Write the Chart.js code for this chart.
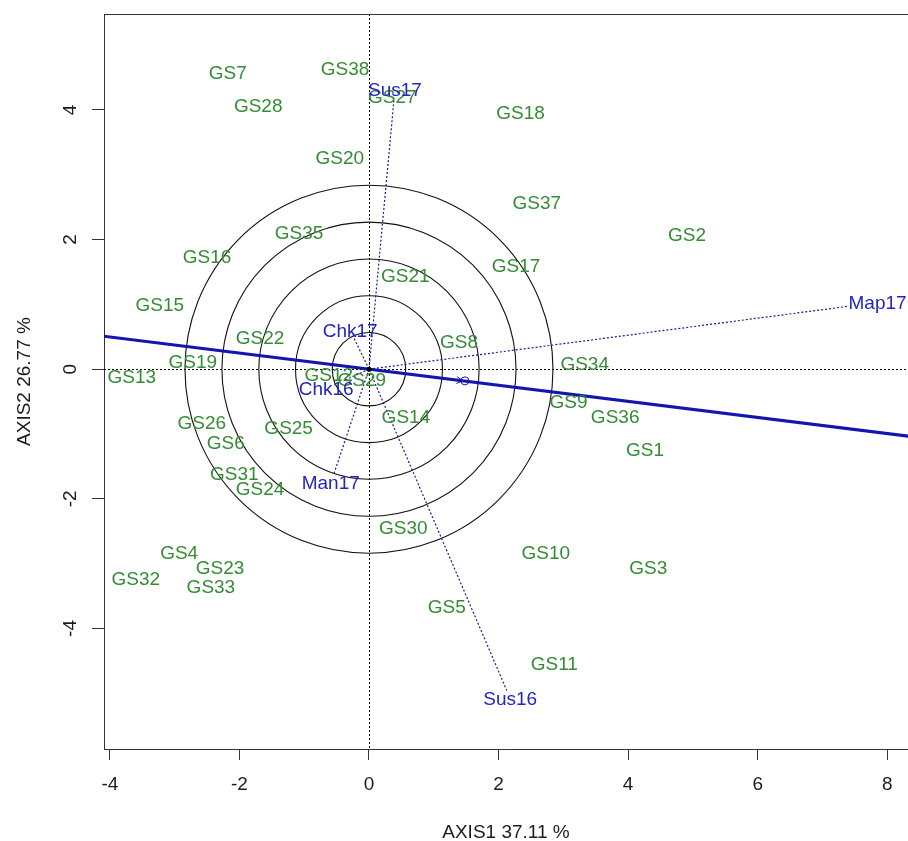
<!DOCTYPE html>
<html>
<head>
<meta charset="utf-8">
<script src="https://cdn.jsdelivr.net/npm/chart.js@4.4.1/dist/chart.umd.min.js"></script>
<style>
  html, body { margin: 0; padding: 0; background: #ffffff; }
  #wrap { width: 908px; height: 841px; }
</style>
</head>
<body>
<div id="wrap"><canvas id="biplot" width="908" height="841"></canvas></div>
<script>
// Genotype scores on the first two principal axes
const genotypes = ['GS1','GS2','GS3','GS4','GS5','GS6','GS7','GS8','GS9','GS10',
  'GS11','GS12','GS13','GS14','GS15','GS16','GS17','GS18','GS19','GS20',
  'GS21','GS22','GS23','GS24','GS25','GS26','GS27','GS28','GS29','GS30',
  'GS31','GS32','GS33','GS34','GS35','GS36','GS37','GS38'];
const genoX = [4.26, 4.91, 4.31, -2.93, 1.20, -2.21, -2.18, 1.39, 3.08, 2.73,
  2.86, -0.62, -3.66, 0.57, -3.23, -2.50, 2.27, 2.34, -2.72, -0.45,
  0.56, -1.68, -2.30, -1.68, -1.24, -2.58, 0.36, -1.71, -0.11, 0.53,
  -2.08, -3.60, -2.44, 3.33, -1.08, 3.80, 2.59, -0.37];
const genoY = [-1.25, 2.07, -3.07, -2.84, -3.67, -1.14, 4.57, 0.42, -0.51, -2.84,
  -4.54, -0.08, -0.12, -0.73, 1.00, 1.74, 1.60, 3.95, 0.11, 3.26,
  1.44, 0.49, -3.07, -1.84, -0.91, -0.82, 4.20, 4.07, -0.17, -2.44,
  -1.62, -3.23, -3.35, 0.09, 2.11, -0.74, 2.56, 4.63];

// Environment vectors
const envNames = ['Sus17', 'Map17', 'Chk17', 'Chk16', 'Man17', 'Sus16'];
const envX = [0.40, 7.85, -0.29, -0.66, -0.59, 2.18];
const envY = [4.31, 1.03, 0.60, -0.30, -1.76, -5.08];

// Average environment coordinate and concentric reference circles
const aecPoint = [1.45, -0.18];
const circleRadii = [0.567, 1.134, 1.70, 2.27, 2.84];

// Axes
const xTicks = [-4, -2, 0, 2, 4, 6, 8];
const yTicks = [-4, -2, 0, 2, 4];
const xRange = [-4.09, 8.32];
const yRange = [-5.86, 5.48];
const xTitle = 'AXIS1 37.11 %';
const yTitle = 'AXIS2 26.77 %';

const FONT = '19px "Liberation Sans", Arial, sans-serif';
const GREEN = '#348c34';
const BLUE_TEXT = '#2424c0';
const BLUE_DOT = '#1c1c8c';
const AXIS_INK = '#1c1c1c';

// AEC abscissa: the line through the origin and the average environment
const aecSlope = aecPoint[1] / aecPoint[0];
const aecLine = [
  { x: xRange[0] - 0.2, y: aecSlope * (xRange[0] - 0.2) },
  { x: xRange[1] + 0.2, y: aecSlope * (xRange[1] + 0.2) }
];

const biplotDecor = {
  id: 'biplotDecor',
  beforeDatasetsDraw(chart) {
    const { ctx, chartArea: a, scales: { x, y } } = chart;
    const ox = x.getPixelForValue(0), oy = y.getPixelForValue(0);
    ctx.save();
    ctx.beginPath();
    ctx.rect(a.left, a.top, a.right - a.left, a.bottom - a.top);
    ctx.clip();

    // dotted zero lines
    ctx.strokeStyle = '#000';
    ctx.lineWidth = 1;
    ctx.setLineDash([2, 2]);
    ctx.beginPath();
    ctx.moveTo(Math.round(ox) + 0.5, a.top);
    ctx.lineTo(Math.round(ox) + 0.5, a.bottom);
    ctx.moveTo(a.left, Math.round(oy) + 0.5);
    ctx.lineTo(a.right, Math.round(oy) + 0.5);
    ctx.stroke();

    // concentric circles
    ctx.setLineDash([]);
    ctx.strokeStyle = '#111';
    ctx.lineWidth = 1.1;
    circleRadii.forEach(r => {
      const rp = x.getPixelForValue(r) - ox;
      ctx.beginPath();
      ctx.arc(ox, oy, rp, 0, Math.PI * 2);
      ctx.stroke();
    });

    // environment vectors, stopping at the edge of each label
    ctx.font = FONT;
    ctx.strokeStyle = BLUE_DOT;
    ctx.lineWidth = 1.2;
    ctx.setLineDash([2, 2]);
    const meta = chart.getDatasetMeta(2);
    meta.data.forEach((pt, i) => {
      const dx = pt.x - ox, dy = pt.y - oy;
      const hw = ctx.measureText(envNames[i]).width / 2 + 1;
      const hh = 8;
      const fx = Math.abs(dx) > 0 ? hw / Math.abs(dx) : Infinity;
      const fy = Math.abs(dy) > 0 ? hh / Math.abs(dy) : Infinity;
      const t = Math.max(0, 1 - Math.min(fx, fy));
      ctx.beginPath();
      ctx.moveTo(ox, oy);
      ctx.lineTo(ox + dx * t, oy + dy * t);
      ctx.stroke();
    });
    ctx.restore();
  },
  afterDatasetsDraw(chart) {
    const { ctx, chartArea: a, scales: { x, y } } = chart;
    const ox = x.getPixelForValue(0), oy = y.getPixelForValue(0);
    ctx.save();

    // marker at the average environment: small circle with arrow head
    const ax = x.getPixelForValue(aecPoint[0]);
    const ay = y.getPixelForValue(aecPoint[1]);
    const ang = Math.atan2(ay - oy, ax - ox);
    ctx.strokeStyle = '#1414b0';
    ctx.lineWidth = 1;
    ctx.beginPath();
    ctx.arc(ax + 2, ay, 4, 0, Math.PI * 2);
    ctx.stroke();
    ctx.beginPath();
    ctx.moveTo(ax - 7 * Math.cos(ang - 0.5), ay - 7 * Math.sin(ang - 0.5));
    ctx.lineTo(ax, ay);
    ctx.lineTo(ax - 7 * Math.cos(ang + 0.5), ay - 7 * Math.sin(ang + 0.5));
    ctx.stroke();

    // origin dot
    ctx.fillStyle = '#000';
    ctx.beginPath();
    ctx.arc(ox, oy, 2.5, 0, Math.PI * 2);
    ctx.fill();

    // point labels
    ctx.font = FONT;
    ctx.textAlign = 'center';
    ctx.textBaseline = 'middle';
    ctx.fillStyle = GREEN;
    chart.getDatasetMeta(1).data.forEach((pt, i) => {
      ctx.fillText(genotypes[i], pt.x, pt.y + 1);
    });
    ctx.fillStyle = BLUE_TEXT;
    chart.getDatasetMeta(2).data.forEach((pt, i) => {
      ctx.fillText(envNames[i], pt.x, pt.y + 1);
    });

    // top frame line
    ctx.strokeStyle = '#333';
    ctx.lineWidth = 1;
    ctx.beginPath();
    ctx.moveTo(a.left, Math.round(a.top) + 0.5);
    ctx.lineTo(a.right, Math.round(a.top) + 0.5);
    ctx.stroke();

    // tick labels and axis titles
    ctx.fillStyle = AXIS_INK;
    x.ticks.forEach(t => {
      ctx.fillText(String(t.value), x.getPixelForValue(t.value), 785);
    });
    y.ticks.forEach(t => {
      ctx.save();
      ctx.translate(70, y.getPixelForValue(t.value));
      ctx.rotate(-Math.PI / 2);
      ctx.fillText(String(t.value), 0, 1);
      ctx.restore();
    });
    ctx.fillText(xTitle, (a.left + a.right) / 2, 833);
    ctx.save();
    ctx.translate(24, (a.top + a.bottom) / 2);
    ctx.rotate(-Math.PI / 2);
    ctx.fillText(yTitle, 0, 1);
    ctx.restore();

    ctx.restore();
  }
};

new Chart(document.getElementById('biplot'), {
  type: 'scatter',
  data: {
    datasets: [
      {
        label: 'AEC',
        type: 'line',
        data: aecLine,
        borderColor: '#1414b0',
        borderWidth: 3,
        pointRadius: 0,
        fill: false
      },
      {
        label: 'Genotypes',
        data: genotypes.map((g, i) => ({ x: genoX[i], y: genoY[i] })),
        pointRadius: 0
      },
      {
        label: 'Environments',
        data: envNames.map((e, i) => ({ x: envX[i], y: envY[i] })),
        pointRadius: 0
      }
    ]
  },
  options: {
    responsive: false,
    animation: false,
    devicePixelRatio: 1,
    layout: { padding: { top: 14, right: 0, left: 0, bottom: 0 } },
    plugins: { legend: { display: false }, tooltip: { enabled: false } },
    scales: {
      x: {
        type: 'linear',
        position: 'bottom',
        min: xRange[0],
        max: xRange[1],
        afterBuildTicks: s => { s.ticks = xTicks.map(v => ({ value: v })); },
        afterFit: s => { s.height = 92; },
        grid: { drawOnChartArea: false, drawTicks: true, tickLength: 11, color: '#333', lineWidth: 1 },
        border: { display: true, color: '#333', width: 1 },
        ticks: { display: false }
      },
      y: {
        type: 'linear',
        position: 'left',
        min: yRange[0],
        max: yRange[1],
        afterBuildTicks: s => { s.ticks = yTicks.map(v => ({ value: v })); },
        afterFit: s => { s.width = 104; },
        grid: { drawOnChartArea: false, drawTicks: true, tickLength: 12, color: '#333', lineWidth: 1 },
        border: { display: true, color: '#333', width: 1 },
        ticks: { display: false }
      }
    }
  },
  plugins: [biplotDecor]
});
</script>
</body>
</html>
